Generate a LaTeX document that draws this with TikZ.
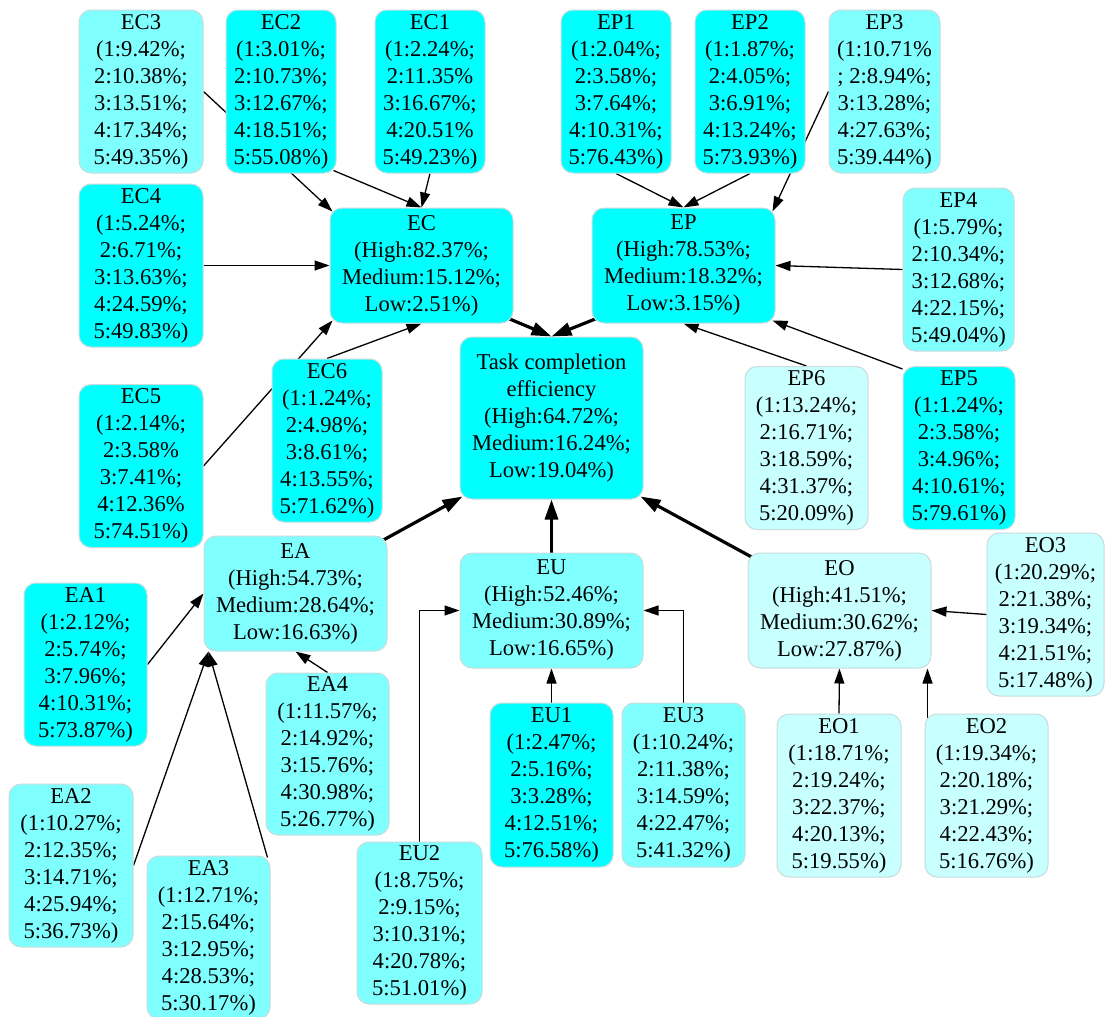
\documentclass[tikz,border=0pt]{standalone}
\usepackage{fontspec}
\setmainfont{Liberation Serif}
\usetikzlibrary{arrows.meta}
\definecolor{cA}{HTML}{00FFFF}
\definecolor{cB}{HTML}{80FFFF}
\definecolor{cC}{HTML}{C8FFFF}
\definecolor{bord}{HTML}{C8DCDC}
\pgfdeclarelayer{bg}
\pgfdeclarelayer{edges}
\pgfsetlayers{bg,edges,main}
\begin{document}
\begin{tikzpicture}[x=0.5pt,y=-0.5pt,
  box/.style={rectangle, rounded corners=6pt, draw=bord, line width=0.5pt, inner sep=0pt,
    align=center, font=\fontsize{11.3}{13.5}\selectfont},
  bw/.style={minimum width=#1*0.5pt},
  bh/.style={minimum height=#1*0.5pt},
  full/.style={box, fill=cA},
  half/.style={box, fill=cB},
  pale/.style={box, fill=cC},
  arr/.style={-{Triangle[length=7.5pt,width=5pt]}, line width=0.65pt},
  tarr/.style={-{Triangle[length=10pt,width=6.5pt]}, line width=1.6pt}]
\begin{pgfonlayer}{bg}
\fill[white] (0,0) rectangle (1105,1017);
\end{pgfonlayer}
\useasboundingbox (0,0) rectangle (1105,1017);

% top row
\node[half, bw=124, bh=163] (EC3) at (141,91.5) {EC3\\(1:9.42\%;\\2:10.38\%;\\3:13.51\%;\\4:17.34\%;\\5:49.35\%)};
\node[full, bw=110, bh=163] (EC2) at (281,91.5) {EC2\\(1:3.01\%;\\2:10.73\%;\\3:12.67\%;\\4:18.51\%;\\5:55.08\%)};
\node[full, bw=110, bh=163] (EC1) at (430,91.5) {EC1\\(1:2.24\%;\\2:11.35\%\\3:16.67\%;\\4:20.51\%\\5:49.23\%)};
\node[full, bw=110, bh=163] (EP1) at (616,91.5) {EP1\\(1:2.04\%;\\2:3.58\%;\\3:7.64\%;\\4:10.31\%;\\5:76.43\%)};
\node[full, bw=110, bh=163] (EP2) at (750,91.5) {EP2\\(1:1.87\%;\\2:4.05\%;\\3:6.91\%;\\4:13.24\%;\\5:73.93\%)};
\node[half, bw=111, bh=163] (EP3) at (884.5,91.5) {EP3\\(1:10.71\%\\; 2:8.94\%;\\3:13.28\%;\\4:27.63\%;\\5:39.44\%)};

% second band
\node[full, bw=124, bh=163] (EC4) at (141,265.5) {EC4\\(1:5.24\%;\\2:6.71\%;\\3:13.63\%;\\4:24.59\%;\\5:49.83\%)};
\node[full, bw=183, bh=115] (EC) at (421.5,265.5) {EC\\(High:82.37\%;\\Medium:15.12\%;\\Low:2.51\%)};
\node[full, bw=183, bh=115] (EP) at (683.5,265.5) {EP\\(High:78.53\%;\\Medium:18.32\%;\\Low:3.15\%)};
\node[half, bw=111, bh=163] (EP4) at (958.5,269.5) {EP4\\(1:5.79\%;\\2:10.34\%;\\3:12.68\%;\\4:22.15\%;\\5:49.04\%)};

% third band
\node[full, bw=124, bh=163] (EC5) at (141,466) {EC5\\(1:2.14\%;\\2:3.58\%\\3:7.41\%;\\4:12.36\%\\5:74.51\%)};
\node[full, bw=110, bh=163] (EC6) at (327,440.5) {EC6\\(1:1.24\%;\\2:4.98\%;\\3:8.61\%;\\4:13.55\%;\\5:71.62\%)};
\node[full, bw=183, bh=162] (Task) at (551.5,418) {Task completion\\efficiency\\(High:64.72\%;\\Medium:16.24\%;\\Low:19.04\%)};
\node[pale, bw=123, bh=163] (EP6) at (806.5,448) {EP6\\(1:13.24\%;\\2:16.71\%;\\3:18.59\%;\\4:31.37\%;\\5:20.09\%)};
\node[full, bw=112, bh=163] (EP5) at (959,448) {EP5\\(1:1.24\%;\\2:3.58\%;\\3:4.96\%;\\4:10.61\%;\\5:79.61\%)};

% fourth band
\node[half, bw=183, bh=115] (EA) at (295.5,593.5) {EA\\(High:54.73\%;\\Medium:28.64\%;\\Low:16.63\%)};
\node[half, bw=183, bh=115] (EU) at (551.5,610.5) {EU\\(High:52.46\%;\\Medium:30.89\%;\\Low:16.65\%)};
\node[pale, bw=183, bh=115] (EO) at (839.5,610.5) {EO\\(High:41.51\%;\\Medium:30.62\%;\\Low:27.87\%)};
\node[pale, bw=117, bh=163] (EO3) at (1045.5,614.5) {EO3\\(1:20.29\%;\\2:21.38\%;\\3:19.34\%;\\4:21.51\%;\\5:17.48\%)};
\node[full, bw=123, bh=163] (EA1) at (85.5,664.5) {EA1\\(1:2.12\%;\\2:5.74\%;\\3:7.96\%;\\4:10.31\%;\\5:73.87\%)};
\node[half, bw=123, bh=162] (EA4) at (327.5,754) {EA4\\(1:11.57\%;\\2:14.92\%;\\3:15.76\%;\\4:30.98\%;\\5:26.77\%)};

% bottom band
\node[full, bw=123, bh=164] (EU1) at (551.5,785) {EU1\\(1:2.47\%;\\2:5.16\%;\\3:3.28\%;\\4:12.51\%;\\5:76.58\%)};
\node[half, bw=123, bh=164] (EU3) at (683.5,785) {EU3\\(1:10.24\%;\\2:11.38\%;\\3:14.59\%;\\4:22.47\%;\\5:41.32\%)};
\node[pale, bw=124, bh=163] (EO1) at (839,795.5) {EO1\\(1:18.71\%;\\2:19.24\%;\\3:22.37\%;\\4:20.13\%;\\5:19.55\%)};
\node[pale, bw=123, bh=163] (EO2) at (986.5,795.5) {EO2\\(1:19.34\%;\\2:20.18\%;\\3:21.29\%;\\4:22.43\%;\\5:16.76\%)};
\node[half, bw=124, bh=163] (EA2) at (71,865.5) {EA2\\(1:10.27\%;\\2:12.35\%;\\3:14.71\%;\\4:25.94\%;\\5:36.73\%)};
\node[half, bw=123, bh=163] (EA3) at (208.5,937.5) {EA3\\(1:12.71\%;\\2:15.64\%;\\3:12.95\%;\\4:28.53\%;\\5:30.17\%)};
\node[half, bw=125, bh=162] (EU2) at (419.5,923) {EU2\\(1:8.75\%;\\2:9.15\%;\\3:10.31\%;\\4:20.78\%;\\5:51.01\%)};

\begin{pgfonlayer}{edges}
% into EC
\draw[arr] (EC3.east) -- ([shift={(3,4)}]EC.north west);
\draw[arr] ([shift={(-3,-3)}]EC2.south east) -- (EC.north);
\draw[arr] (EC1.south) -- (EC.north);
\draw[arr] (EC4.east) -- (EC.west);
\draw[arr] (EC5.east) -- ([shift={(3,-3)}]EC.south west);
\draw[arr] (EC6.north) -- (EC.south);
% into EP
\draw[arr] (EP1.south) -- (EP.north);
\draw[arr] (EP2.south) -- (EP.north);
\draw[arr] (EP3.west) -- ([shift={(-3,4)}]EP.north east);
\draw[arr] (EP4.west) -- (EP.east);
\draw[arr] (EP6.north) -- (EP.south);
\draw[arr] ([shift={(0,3)}]EP5.north west) -- ([shift={(-3,-3)}]EP.south east);
% into Task
\draw[tarr] ([shift={(-5,-5)}]EC.south east) -- (Task.north);
\draw[tarr] ([shift={(5,-5)}]EP.south west) -- (Task.north);
\draw[tarr] ([shift={(-5,5)}]EA.north east) -- ([shift={(3,-3)}]Task.south west);
\draw[tarr] (EU.north) -- (Task.south);
\draw[tarr] ([shift={(5,5)}]EO.north west) -- ([shift={(-3,-3)}]Task.south east);
% into EA
\draw[arr] (EA1.east) -- (EA.west);
\draw[arr] (EA2.east) -- ([shift={(5,0)}]EA.south west);
\draw[arr] ([shift={(-3,2)}]EA3.north east) -- ([shift={(5,0)}]EA.south west);
\draw[arr] (EA4.north) -- (EA.south);
% into EU
\draw[arr] (EU1.north) -- (EU.south);
\draw[arr] (EU2.north) |- (EU.west);
\draw[arr] (EU3.north) |- (EU.east);
% into EO
\draw[arr] (EO1.north) -- (EO.south);
\draw[arr] ([shift={(3,4)}]EO2.north west) -- ([shift={(-4,0)}]EO.south east);
\draw[arr] (EO3.west) -- (EO.east);
\end{pgfonlayer}
\end{tikzpicture}
\end{document}
